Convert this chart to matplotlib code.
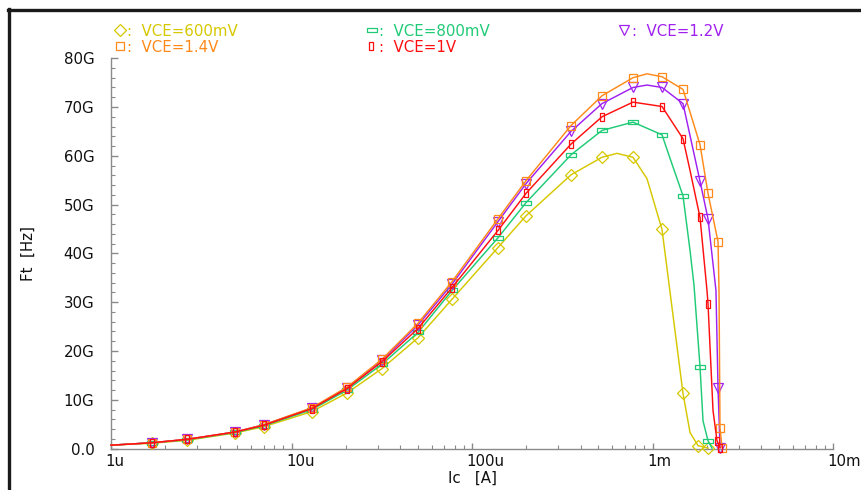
import matplotlib
matplotlib.use("Agg")
import matplotlib.pyplot as plt
from matplotlib.lines import Line2D
from matplotlib.ticker import MultipleLocator, FixedLocator, NullFormatter
from matplotlib.transforms import ScaledTranslation
import numpy as np

plt.rcParams['font.family'] = ['DejaVu Sans']

# ---------------- data (Ic in A, Ft in GHz) ----------------
ic_600 = [1.0e-6, 1.687e-6, 2.637e-6, 4.864e-6, 7.04e-6, 12.99e-6, 20.3e-6, 31.72e-6, 50.2e-6, 77.5e-6,
          139.3e-6, 199.2e-6, 353.6e-6, 525.1e-6, 635.7e-6, 779.9e-6, 932.4e-6, 1.129e-3, 1.476e-3,
          1.614e-3, 1.787e-3, 2.030e-3]
ft_600 = [0.7, 1.1, 1.7, 3.2, 4.5, 7.6, 11.4, 16.4, 22.7, 30.6,
          41.2, 47.7, 56.1, 59.7, 60.5, 59.7, 55.3, 44.9, 11.3,
          3.3, 0.6, 0.1]
mk_600 = [1, 2, 3, 4, 5, 6, 7, 8, 9, 10, 11, 12, 13, 15, 17, 18, 20, 21]

ic_800 = [1.0e-6, 1.687e-6, 2.637e-6, 4.864e-6, 7.04e-6, 12.99e-6, 20.3e-6, 31.72e-6, 50.2e-6, 77.5e-6,
          139.3e-6, 199.2e-6, 353.6e-6, 525.1e-6, 779.9e-6, 1.129e-3, 1.250e-3, 1.476e-3, 1.614e-3,
          1.698e-3, 1.833e-3, 1.905e-3, 2.030e-3, 2.136e-3]
ft_800 = [0.7, 1.2, 1.8, 3.3, 4.7, 8.0, 12.0, 17.3, 23.8, 32.4,
          43.2, 50.4, 60.2, 65.2, 66.9, 64.3, 59.5, 51.8, 40.6,
          33.5, 16.8, 5.7, 1.6, 0.1]
mk_800 = [1, 2, 3, 4, 5, 6, 7, 8, 9, 10, 11, 12, 13, 14, 15, 17, 20, 22]

ic_12 = [1.0e-6, 1.687e-6, 2.637e-6, 4.864e-6, 7.04e-6, 12.99e-6, 20.3e-6, 31.72e-6, 50.2e-6, 77.5e-6,
         139.3e-6, 199.2e-6, 353.6e-6, 525.1e-6, 779.9e-6, 932.4e-6, 1.129e-3, 1.476e-3,
         1.833e-3, 2.030e-3, 2.247e-3, 2.307e-3, 2.366e-3]
ft_12 = [0.7, 1.2, 1.9, 3.4, 4.9, 8.3, 12.5, 18.1, 25.3, 33.7,
         46.5, 54.3, 65.0, 70.7, 74.0, 74.5, 74.0, 70.7,
         54.8, 47.1, 32.4, 12.5, 0.2]
mk_12 = [1, 2, 3, 4, 5, 6, 7, 8, 9, 10, 11, 12, 13, 14, 16, 17, 18, 19, 21, 22]

ic_14 = [1.0e-6, 1.687e-6, 2.637e-6, 4.864e-6, 7.04e-6, 12.99e-6, 20.3e-6, 31.72e-6, 50.2e-6, 77.5e-6,
         139.3e-6, 199.2e-6, 353.6e-6, 525.1e-6, 779.9e-6, 932.4e-6, 1.129e-3, 1.476e-3,
         1.833e-3, 2.030e-3, 2.307e-3, 2.336e-3, 2.366e-3, 2.427e-3]
ft_14 = [0.7, 1.2, 1.9, 3.4, 4.9, 8.4, 12.6, 18.3, 25.7, 34.2,
         47.1, 54.9, 66.2, 72.3, 76.0, 76.8, 76.2, 73.6,
         62.3, 52.3, 42.4, 32.4, 4.3, 0.2]
mk_14 = [1, 2, 3, 4, 5, 6, 7, 8, 9, 10, 11, 12, 13, 14, 16, 17, 18, 19, 20, 22, 23]

ic_1 = [1.0e-6, 1.687e-6, 2.637e-6, 4.864e-6, 7.04e-6, 12.99e-6, 20.3e-6, 31.72e-6, 50.2e-6, 77.5e-6,
        139.3e-6, 199.2e-6, 353.6e-6, 525.1e-6, 779.9e-6, 1.129e-3, 1.476e-3, 1.614e-3,
        1.833e-3, 2.004e-3, 2.030e-3, 2.164e-3, 2.277e-3, 2.366e-3]
ft_1 = [0.7, 1.2, 1.9, 3.4, 4.8, 8.2, 12.3, 17.8, 24.6, 33.0,
        44.7, 52.3, 62.4, 68.0, 71.0, 70.1, 63.5, 57.0,
        47.4, 32.4, 29.7, 7.8, 1.6, 0.2]
mk_1 = [1, 2, 3, 4, 5, 6, 7, 8, 9, 10, 11, 12, 13, 14, 15, 16, 18, 20, 22, 23]

labels = ["VCE=600mV", "VCE=800mV", "VCE=1.2V", "VCE=1.4V", "VCE=1V"]
xtick_vals = [1e-6, 1e-5, 1e-4, 1e-3, 1e-2]
xtick_labels = ["1u", "10u", "100u", "1m", "10m"]
ytick_vals = [0, 10e9, 20e9, 30e9, 40e9, 50e9, 60e9, 70e9, 80e9]
ytick_labels = ["0.0", "10G", "20G", "30G", "40G", "50G", "60G", "70G", "80G"]

# ---------------- styles ----------------
c_yel = "#D6C800"
c_grn = "#1FCB76"
c_pur = "#A020F0"
c_org = "#FF8A1A"
c_red = "#FF1010"

hrect = [(-1, -0.38), (1, -0.38), (1, 0.38), (-1, 0.38), (-1, -0.38)]
vrect = [(-0.4, -1), (0.4, -1), (0.4, 1), (-0.4, 1), (-0.4, -1)]

series = [
    (ic_600, ft_600, mk_600, c_yel, "D", 6.3, labels[0]),
    (ic_800, ft_800, mk_800, c_grn, hrect, 6.5, labels[1]),
    (ic_12, ft_12, mk_12, c_pur, "v", 6.8, labels[2]),
    (ic_14, ft_14, mk_14, c_org, "s", 6.0, labels[3]),
    (ic_1, ft_1, mk_1, c_red, vrect, 6.2, labels[4]),
]

W, H, DPI = 861, 490, 100
fig = plt.figure(figsize=(W / DPI, H / DPI), dpi=DPI)
fig.patch.set_facecolor("white")

ax_l, ax_r, ax_t, ax_b = 111, 833, 58.2, 448.6
ax = fig.add_axes([ax_l / W, 1 - ax_b / H, (ax_r - ax_l) / W, (ax_b - ax_t) / H])

for xs, ys, mk, col, marker, ms, lab in series:
    ax.plot(xs, np.array(ys) * 1e9, color=col, lw=1.05, marker=marker, markevery=mk,
            markersize=ms, markerfacecolor="none", markeredgecolor=col, markeredgewidth=0.9,
            label=lab, clip_on=False, zorder=3)

ax.set_xscale("log")
ax.set_xlim(1e-6, 1e-2)
ax.set_ylim(0, 80e9)

ax.xaxis.set_major_locator(FixedLocator(xtick_vals))
ax.set_xticks(xtick_vals)
ax.set_xticklabels(xtick_labels)
ax.xaxis.set_minor_locator(matplotlib.ticker.LogLocator(base=10, subs=np.arange(2, 10)))
ax.xaxis.set_minor_formatter(NullFormatter())

ax.set_yticks(ytick_vals)
ax.set_yticklabels(ytick_labels)
ax.yaxis.set_minor_locator(MultipleLocator(2e9))

for s in ["top", "right"]:
    ax.spines[s].set_visible(False)
for s in ["left", "bottom"]:
    ax.spines[s].set_color("#8a8a8a")
    ax.spines[s].set_linewidth(1.0)

ax.tick_params(axis="both", which="both", direction="in", colors="#8a8a8a",
               labelcolor="#111111", labelsize=10.8)
ax.tick_params(axis="y", which="major", length=5, width=1, pad=12)
ax.tick_params(axis="y", which="minor", length=3, width=0.8)
ax.tick_params(axis="x", which="major", length=4, width=1, pad=4)
ax.tick_params(axis="x", which="minor", length=3, width=0.8)

off = ScaledTranslation(-5.5 / DPI, 0, fig.dpi_scale_trans)
for t in ax.get_xticklabels():
    t.set_ha("left")
    t.set_transform(t.get_transform() + off)

ax.set_xlabel("Ic   [A]", fontsize=10.8, labelpad=1, color="#111111")
ax.set_ylabel("Ft  [Hz]", fontsize=10.8, va="center", color="#111111")
ax.yaxis.set_label_coords((28 - ax_l) / (ax_r - ax_l), 0.5)

# ---------------- legend (text-style, as in the waveform viewer) ----------------
leg_pos = [(119.5, 30.5), (372, 30.5), (623.5, 30.5), (119.5, 46.5), (371, 46.5)]
text_x = [127, 379, 632, 127, 379]
for (mx, my), tx, (xs, ys, mk, col, marker, ms, lab) in zip(leg_pos, text_x, series):
    fig.add_artist(Line2D([mx / W], [1 - my / H], transform=fig.transFigure, marker=marker,
                          markersize=ms, markerfacecolor="none", markeredgecolor=col,
                          markeredgewidth=0.9, linestyle="none"))
    fig.text(tx / W, 1 - (my + 5.5) / H, ":  " + lab, color=col, fontsize=10.8,
             ha="left", va="baseline")

# ---------------- window frame (top and left edges) ----------------
fig.add_artist(Line2D([8 / W, 1], [1 - 10 / H, 1 - 10 / H], transform=fig.transFigure,
                      color="#1a1a1a", lw=2.4))
fig.add_artist(Line2D([8.5 / W, 8.5 / W], [0, 1 - 9 / H], transform=fig.transFigure,
                      color="#1a1a1a", lw=2.4))

fig.savefig("out.png", dpi=DPI)
